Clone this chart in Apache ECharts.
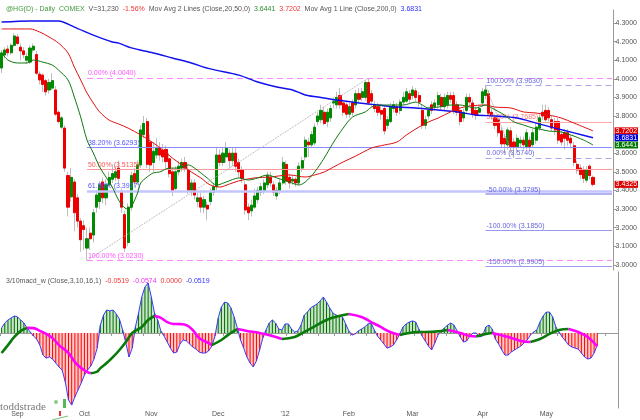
<!DOCTYPE html>
<html><head><meta charset="utf-8">
<script src="https://cdn.jsdelivr.net/npm/echarts@6/dist/echarts.min.js"></script>
<style>html,body{margin:0;padding:0;background:#fff}#c{width:640px;height:420px}</style>
</head><body><div id="c"></div>
<script>
// ---------------- DATA ----------------
const monthLabels = ['Sep','Oct','Nov','Dec',"'12",'Feb','Mar','Apr','May'];
const monthStarts = [5,26,47,68,89,109,129,151,171];
const totalSlots = 194;
const priceTicks = [3.0,3.1,3.2,3.3,3.4,3.5,3.6,3.7,3.8,3.9,4.0,4.1,4.2,4.3];

const opens = [4.058,4.128,4.16,4.14,4.18,4.225,4.17,4.15,4.10,4.09,
4.155,4.13,4.025,4.02,3.99,3.94,3.95,3.94,3.82,3.74,
3.735,3.48,3.365,3.445,3.36,3.235,3.21,3.09,3.17,3.16,
3.31,3.34,3.445,3.36,3.43,3.46,3.47,3.52,3.39,3.27,
3.12,3.31,3.49,3.445,3.537,3.70,3.77,3.66,3.55,3.59,
3.63,3.617,3.62,3.57,3.50,3.41,3.50,3.52,3.55,3.51,
3.40,3.44,3.34,3.36,3.31,3.32,3.34,3.39,3.42,3.59,
3.55,3.58,3.60,3.56,3.60,3.55,3.51,3.43,3.31,3.29,
3.31,3.35,3.39,3.40,3.43,3.47,3.43,3.37,3.40,3.44,
3.54,3.47,3.45,3.46,3.44,3.52,3.58,3.66,3.645,3.655,
3.77,3.78,3.82,3.77,3.79,3.87,3.86,3.91,3.87,3.86,
3.81,3.87,3.86,3.92,3.90,3.90,3.98,3.92,3.86,3.85,
3.83,3.84,3.75,3.77,3.84,3.85,3.83,3.875,3.88,3.92,
3.91,3.935,3.91,3.83,3.75,3.80,3.86,3.85,3.86,3.90,
3.85,3.86,3.91,3.91,3.86,3.83,3.79,3.83,3.90,3.87,
3.83,3.82,3.87,3.91,3.92,3.82,3.79,3.78,3.72,3.68,
3.645,3.72,3.66,3.635,3.655,3.67,3.635,3.67,3.645,3.67,
3.735,3.82,3.83,3.83,3.78,3.77,3.77,3.70,3.71,3.71,
3.68,3.64,3.54,3.52,3.51,3.455,3.53,3.47];
const highs = [4.155,4.17,4.18,4.19,4.245,4.24,4.19,4.17,4.14,4.18,
4.19,4.15,4.04,4.03,4.0,4.0,4.03,3.96,3.83,3.80,
3.75,3.50,3.52,3.46,3.38,3.25,3.24,3.20,3.20,3.30,
3.40,3.45,3.47,3.46,3.50,3.54,3.53,3.56,3.41,3.29,
3.33,3.50,3.52,3.56,3.75,3.80,3.79,3.70,3.66,3.68,
3.66,3.65,3.64,3.60,3.52,3.53,3.56,3.57,3.58,3.54,
3.46,3.46,3.39,3.39,3.37,3.34,3.41,3.44,3.63,3.62,
3.63,3.66,3.62,3.63,3.63,3.57,3.53,3.45,3.33,3.35,
3.41,3.42,3.44,3.46,3.50,3.50,3.45,3.42,3.46,3.58,
3.56,3.49,3.48,3.47,3.55,3.58,3.69,3.68,3.72,3.76,
3.82,3.86,3.85,3.84,3.86,3.90,3.93,3.95,3.89,3.88,
3.87,3.89,3.94,3.95,3.95,3.99,4.004,3.94,3.88,3.87,
3.86,3.86,3.80,3.87,3.88,3.87,3.89,3.93,3.95,3.94,
3.96,3.95,3.93,3.86,3.80,3.85,3.88,3.89,3.93,3.92,
3.92,3.93,3.93,3.93,3.88,3.85,3.84,3.92,3.92,3.89,
3.85,3.86,3.95,3.963,3.94,3.84,3.81,3.80,3.74,3.70,
3.74,3.74,3.68,3.70,3.69,3.69,3.73,3.69,3.73,3.76,
3.81,3.86,3.86,3.85,3.80,3.79,3.79,3.72,3.73,3.73,
3.70,3.66,3.56,3.54,3.53,3.53,3.54,3.48];
const lows = [4.031,4.11,4.12,4.13,4.17,4.18,4.10,4.11,4.08,4.08,
4.14,4.02,3.97,3.93,3.91,3.92,3.94,3.80,3.76,3.73,
3.50,3.26,3.34,3.18,3.20,3.07,3.08,3.023,3.08,3.12,
3.28,3.30,3.33,3.32,3.42,3.44,3.45,3.44,3.28,3.07,
3.10,3.29,3.42,3.43,3.52,3.68,3.52,3.50,3.50,3.57,
3.56,3.55,3.51,3.47,3.37,3.40,3.48,3.50,3.50,3.38,
3.37,3.35,3.31,3.28,3.28,3.24,3.32,3.37,3.40,3.53,
3.53,3.55,3.52,3.53,3.50,3.47,3.44,3.27,3.24,3.26,
3.30,3.33,3.37,3.38,3.41,3.42,3.37,3.35,3.38,3.43,
3.43,3.41,3.43,3.42,3.43,3.50,3.56,3.58,3.63,3.64,
3.75,3.76,3.75,3.74,3.77,3.84,3.84,3.84,3.80,3.79,
3.79,3.80,3.84,3.87,3.88,3.88,3.86,3.85,3.82,3.80,
3.78,3.70,3.73,3.76,3.82,3.80,3.81,3.86,3.87,3.87,
3.89,3.88,3.85,3.73,3.73,3.78,3.81,3.83,3.84,3.83,
3.83,3.84,3.87,3.81,3.80,3.75,3.77,3.81,3.85,3.79,
3.78,3.80,3.85,3.89,3.80,3.78,3.73,3.69,3.63,3.60,
3.62,3.60,3.574,3.60,3.63,3.62,3.62,3.61,3.63,3.65,
3.72,3.78,3.77,3.77,3.72,3.70,3.65,3.64,3.62,3.64,
3.63,3.53,3.49,3.46,3.44,3.44,3.46,3.42];
const closes = [4.139,4.155,4.14,4.18,4.23,4.19,4.15,4.13,4.12,4.165,
4.175,4.03,3.994,3.97,3.93,3.98,3.99,3.81,3.77,3.79,
3.52,3.31,3.47,3.28,3.235,3.135,3.19,3.14,3.14,3.28,
3.375,3.43,3.36,3.43,3.47,3.49,3.50,3.465,3.31,3.09,
3.31,3.48,3.445,3.537,3.725,3.76,3.54,3.537,3.61,3.63,
3.59,3.58,3.555,3.49,3.40,3.50,3.53,3.55,3.52,3.40,
3.44,3.375,3.36,3.31,3.35,3.30,3.39,3.42,3.59,3.55,
3.60,3.63,3.56,3.60,3.53,3.50,3.465,3.295,3.28,3.32,
3.37,3.40,3.42,3.44,3.48,3.44,3.39,3.40,3.44,3.55,
3.45,3.44,3.46,3.44,3.53,3.56,3.67,3.645,3.70,3.74,
3.80,3.83,3.76,3.82,3.84,3.88,3.90,3.86,3.82,3.81,
3.85,3.82,3.92,3.89,3.93,3.98,3.87,3.88,3.84,3.82,
3.81,3.72,3.78,3.85,3.86,3.82,3.875,3.90,3.93,3.89,
3.94,3.90,3.875,3.75,3.78,3.83,3.83,3.87,3.91,3.85,
3.90,3.91,3.89,3.83,3.82,3.77,3.82,3.90,3.875,3.81,
3.805,3.84,3.93,3.94,3.815,3.80,3.75,3.71,3.65,3.65,
3.725,3.635,3.635,3.68,3.67,3.645,3.71,3.635,3.71,3.74,
3.79,3.80,3.78,3.79,3.735,3.725,3.67,3.66,3.68,3.67,
3.655,3.55,3.51,3.485,3.465,3.51,3.48,3.4325];

const ma20 = [[0,4.139],[2,4.101],[5,4.085],[8,4.085],[10,4.101],[13,4.090],[16,4.074],[18,4.047],[21,3.994],[23,3.902],[25,3.795],[27,3.671],[29,3.601],[31,3.526],[33,3.472],[35,3.418],[37,3.348],[39,3.305],[40,3.300],[41,3.311],[43,3.386],[44,3.440],[46,3.472],[48,3.494],[50,3.499],[53,3.520],[56,3.520],[59,3.537],[61,3.520],[65,3.467],[68,3.429],[71,3.445],[75,3.467],[78,3.456],[81,3.467],[84,3.483],[87,3.467],[91,3.445],[94,3.429],[96,3.445],[99,3.499],[102,3.574],[105,3.660],[108,3.735],[111,3.795],[115,3.822],[117,3.848],[119,3.859],[123,3.859],[127,3.859],[131,3.875],[133,3.859],[135,3.843],[138,3.848],[142,3.859],[145,3.859],[148,3.848],[150,3.843],[153,3.859],[155,3.843],[159,3.805],[162,3.768],[165,3.752],[168,3.735],[170,3.730],[173,3.719],[177,3.714],[180,3.698],[184,3.671],[187,3.6441]];
const ma50 = [[0,4.268],[9,4.268],[12,4.252],[15,4.225],[18,4.192],[21,4.139],[23,4.063],[25,3.994],[27,3.924],[29,3.870],[31,3.822],[34,3.778],[37,3.757],[40,3.735],[44,3.698],[48,3.655],[51,3.617],[54,3.574],[57,3.537],[60,3.499],[63,3.467],[66,3.429],[69,3.418],[72,3.434],[75,3.451],[80,3.467],[85,3.472],[91,3.483],[96,3.472],[99,3.483],[102,3.499],[105,3.526],[108,3.553],[112,3.585],[117,3.628],[121,3.644],[125,3.660],[128,3.698],[132,3.741],[135,3.768],[138,3.789],[142,3.822],[145,3.843],[148,3.854],[153,3.859],[156,3.848],[161,3.843],[165,3.822],[169,3.816],[173,3.805],[177,3.789],[181,3.762],[187,3.7202]];
const ma200 = [[0,4.305],[9,4.311],[18,4.311],[23,4.278],[29,4.235],[35,4.198],[37,4.192],[41,4.166],[48,4.139],[54,4.112],[60,4.085],[66,4.053],[75,4.020],[81,3.983],[87,3.956],[92,3.940],[96,3.913],[100,3.902],[106,3.886],[113,3.870],[119,3.859],[125,3.848],[131,3.843],[138,3.832],[144,3.822],[150,3.805],[156,3.800],[163,3.789],[169,3.762],[175,3.735],[181,3.709],[187,3.6831]];

const macd = [0.022,0.043,0.056,0.065,0.073,0.069,0.056,0.043,0.022,0.004,
-0.013,-0.026,-0.052,-0.095,-0.108,-0.103,-0.112,-0.129,-0.146,-0.159,
-0.211,-0.288,-0.310,-0.275,-0.245,-0.215,-0.181,-0.159,-0.142,-0.112,
-0.065,0.034,0.077,0.099,0.095,0.099,0.082,0.060,0.013,-0.043,
-0.103,-0.065,0.026,0.086,0.155,0.198,0.215,0.155,0.086,0.056,
0.009,-0.013,-0.039,-0.065,-0.086,-0.082,-0.047,-0.030,-0.034,-0.047,
-0.060,-0.069,-0.082,-0.086,-0.086,-0.077,-0.056,-0.013,0.065,0.112,
0.133,0.129,0.108,0.069,0.022,-0.030,-0.065,-0.103,-0.129,-0.146,
-0.120,-0.073,-0.022,0.013,0.043,0.056,0.043,0.017,0.013,0.039,
0.039,0.017,0.004,0.009,0.034,0.077,0.090,0.108,0.116,0.125,
0.138,0.155,0.133,0.108,0.086,0.077,0.073,0.069,0.039,0.009,
-0.009,-0.004,0.009,0.017,0.026,0.039,0.043,0.013,-0.013,-0.030,
-0.047,-0.065,-0.060,-0.052,-0.030,-0.004,0.026,0.039,0.047,0.052,
0.047,0.017,-0.013,-0.034,-0.056,-0.073,-0.043,-0.009,0.009,0.022,
0.034,0.043,0.034,0.009,-0.017,-0.039,-0.034,-0.013,0.000,0.000,
-0.017,-0.013,0.026,0.034,0.017,-0.026,-0.047,-0.073,-0.095,-0.095,
-0.082,-0.073,-0.065,-0.056,-0.043,-0.030,-0.009,0.004,0.013,0.047,
0.073,0.090,0.090,0.069,0.026,0.004,-0.017,-0.034,-0.052,-0.060,
-0.065,-0.069,-0.086,-0.103,-0.112,-0.108,-0.086,-0.0519];
const signal = [[0,-0.086],[2,-0.052],[4,-0.017],[6,0.009],[8,0.022],[10,0.021],[12,0.009],[14,-0.004],[16,-0.022],[18,-0.052],[21,-0.086],[23,-0.125],[25,-0.151],[27,-0.168],[28,-0.173],[30,-0.166],[31,-0.151],[33,-0.129],[35,-0.103],[37,-0.073],[39,-0.039],[41,0.000],[44,0.026],[46,0.056],[48,0.073],[50,0.065],[52,0.047],[54,0.039],[56,0.038],[58,0.034],[60,0.013],[62,-0.022],[65,-0.043],[66,-0.052],[69,-0.030],[71,-0.009],[73,0.009],[74,0.017],[77,0.009],[81,0.000],[85,-0.013],[88,-0.026],[92,-0.017],[95,0.004],[98,0.026],[102,0.056],[106,0.073],[109,0.082],[113,0.069],[116,0.047],[119,0.026],[122,0.004],[125,-0.009],[128,0.000],[131,0.004],[135,0.005],[140,0.013],[144,0.000],[147,-0.013],[149,-0.015],[152,-0.004],[154,0.000],[159,-0.017],[163,-0.034],[166,-0.039],[169,-0.026],[172,-0.004],[175,0.013],[178,0.017],[181,0.004],[184,-0.017],[187,-0.0574]];

const fibALabels = ['0.00%','38.20%','50.00%','61.80%','100.00%'];
const fibAValues = [4.0040,3.6293,3.5135,3.3977,3.0230];
const fibAAnchors = [27,116];
const fibBLabels = ['100.00%','50.00%','0.00%','-50.00%','-100.00%','-150.00%'];
const fibBValues = [3.9630,3.7685,3.5740,3.3795,3.1850,2.9905];
const fibBAnchors = [153,162];

const symbolText = '@HG(D) - Daily', exchText = 'COMEX', volText = 'V=31,230', chgText = '-1.56%';
const ma2Text = 'Mov Avg 2 Lines (Close,20,50,0)', ma1Text = 'Mov Avg 1 Line (Close,200,0)';
const macdTitle = '3/10macd_w (Close,3,10,16,1)';

// ---------------- BUILD ----------------
const FONT = 'Liberation Sans';
const UP = '#008a00', DOWN = '#ee0000', MAGENTA = '#ff00ff', SIGGREEN = '#0a7a0a';
const cats = Array.from({length: totalSlots}, (_, i) => i);
const lastIdx = totalSlots - 1;
const candleFull = opens.map((o, i) => [o, closes[i], lows[i], highs[i]]);
const candleBody = opens.map((o, i) => [o, closes[i], Math.min(o, closes[i]), Math.max(o, closes[i])]);
const last = a => a[a.length - 1][1];

const stA = [
  {c:'#ff88ff', w:1, t:[6,4], lc:'#ff55ff'},
  {c:'#8888ff', w:1, t:'solid', lc:'#5555ff'},
  {c:'#ff9a9a', w:1, t:'solid', lc:'#ff5555'},
  {c:'#c4c4ff', w:2.5, t:'solid', lc:'#5555ff'},
  {c:'#ff88ff', w:1, t:[6,4], lc:'#ff55ff'}
];
const stB = [
  {c:'#a8a8e8', w:1, t:[6,4], lc:'#6666dd'},
  {c:'#ffaaaa', w:1, t:'solid', lc:'#ff7777'},
  {c:'#a8a8e8', w:1, t:[6,4], lc:'#6666dd'},
  {c:'#9999ee', w:1.5, t:'solid', lc:'#6666dd'},
  {c:'#9999ee', w:1, t:'solid', lc:'#6666dd'},
  {c:'#9999ee', w:1, t:'solid', lc:'#6666dd'}
];
function fibLines(labels, values, start, styles) {
  return labels.map((lab, k) => [
    {coord:[start, values[k]], lineStyle:{color:styles[k].c, width:styles[k].w, type:styles[k].t},
     label:{show:true, position:'insideStartTop', distance:1, formatter: lab + ' (' + values[k].toFixed(4) + ')',
            color:styles[k].lc, fontSize:7, fontFamily:FONT}},
    {coord:[lastIdx, values[k]]}
  ]);
}
const fibData = []
  .concat(fibLines(fibALabels, fibAValues, fibAAnchors[0], stA))
  .concat(fibLines(fibBLabels, fibBValues, fibBAnchors[0], stB))
  .concat([
    [{coord:[fibAAnchors[0], fibAValues[4]], lineStyle:{color:'#aaaaaa', type:'dotted', width:1}, label:{show:false}}, {coord:[fibAAnchors[1], fibAValues[0]]}],
    [{coord:[fibBAnchors[0], fibBValues[0]], lineStyle:{color:'#aaaaaa', type:'dotted', width:1}, label:{show:false}}, {coord:[fibBAnchors[1], fibBValues[2]]}]
  ]);

// signal segments colored by direction
const sigSeries = [];
let run = [signal[0]], runCol = null;
for (let k = 1; k < signal.length; k++) {
  const col = signal[k][1] > signal[k-1][1] ? SIGGREEN : MAGENTA;
  if (runCol === null) runCol = col;
  if (col !== runCol) { sigSeries.push({c: runCol, d: run}); run = [signal[k-1]]; runCol = col; }
  run.push(signal[k]);
}
sigSeries.push({c: runCol, d: run});

const series = [
  {type:'line', name:'fib', xAxisIndex:0, yAxisIndex:0, data:[], z:1, silent:true,
   markLine:{symbol:['none','none'], silent:true, animation:false, data: fibData}},
  {type:'candlestick', data: candleFull, xAxisIndex:0, yAxisIndex:0, barWidth:2.6, z:3,
   itemStyle:{color:'#c4c4c4', color0:'#c4c4c4', borderColor:'#bdbdbd', borderColor0:'#bdbdbd', borderWidth:1}},
  {type:'candlestick', data: candleBody, xAxisIndex:0, yAxisIndex:0, barWidth:2.6, z:4,
   itemStyle:{color:UP, color0:DOWN, borderColor:UP, borderColor0:DOWN, borderWidth:1}},
  {type:'line', data: ma200, xAxisIndex:0, yAxisIndex:0, symbol:'none', smooth:0.3, z:5,
   lineStyle:{color:'#1010ee', width:1.4}},
  {type:'line', data: ma50, xAxisIndex:0, yAxisIndex:0, symbol:'none', smooth:0.3, z:5,
   lineStyle:{color:'#e01010', width:1}},
  {type:'line', data: ma20, xAxisIndex:0, yAxisIndex:0, symbol:'none', smooth:0.3, z:5,
   lineStyle:{color:'#117711', width:1}},
  // MACD panel
  {type:'line', data: macd.map(v => Math.max(v, 0)), xAxisIndex:1, yAxisIndex:1, symbol:'none', z:1,
   lineStyle:{width:0, opacity:0}, areaStyle:{color:'#c9e6c9', opacity:1}},
  {type:'line', data: macd.map(v => Math.min(v, 0)), xAxisIndex:1, yAxisIndex:1, symbol:'none', z:1,
   lineStyle:{width:0, opacity:0}, areaStyle:{color:'#ffcaca', opacity:1}},
  {type:'bar', data: macd, xAxisIndex:1, yAxisIndex:1, barWidth:1, z:2,
   itemStyle:{color: p => p.value >= 0 ? '#006a00' : '#ff0000'}},
  {type:'line', data: macd, xAxisIndex:1, yAxisIndex:1, symbol:'none', z:3,
   lineStyle:{color:'#3a3aff', width:1}}
];
sigSeries.forEach(s => series.push({type:'line', data:s.d, xAxisIndex:1, yAxisIndex:1, symbol:'none', smooth:0.4, z:4,
  lineStyle:{color:s.c, width:2.6}}));

const staticGraphics = [
  {id:'wm', type:'text', left:0, top:402, style:{text:'toddstrade', fill:'#7a7a7a', font:'11px "Liberation Serif", serif'}},
  {id:'ic1', type:'rect', left:63, top:399, shape:{width:3, height:9}, style:{fill:'#55bb55'}},
  {id:'ic2', type:'circle', left:54, top:400, shape:{r:2}, style:{fill:'#88cc88'}},
  {id:'ic3', type:'rect', left:59, top:411, shape:{width:2, height:5}, style:{fill:'#ee3333'}},
  {id:'ic4', type:'line', shape:{x1:52, y1:420, x2:68, y2:416}, style:{stroke:'#77bb77', lineWidth:1}}
];

const chart = echarts.init(document.getElementById('c'), null, {renderer:'canvas'});
chart.setOption({
  animation:false,
  backgroundColor:'#ffffff',
  textStyle:{fontFamily:FONT},
  title:[
    {left:1, top:1, text:'{g|'+symbolText+'}  {g|'+exchText+'}  {k|'+volText+'}  {r|'+chgText+'}  {k|'+ma2Text+'}  {g2|'+last(ma20).toFixed(4)+'}  {r|'+last(ma50).toFixed(4)+'}  {k|'+ma1Text+'}  {b|'+last(ma200).toFixed(4)+'}',
     textStyle:{fontSize:7, fontWeight:'normal', fontFamily:FONT,
       rich:{g:{color:'#44993f', fontSize:7, fontFamily:FONT}, g2:{color:'#2a8a2a', fontSize:7, fontFamily:FONT},
             k:{color:'#555555', fontSize:7, fontFamily:FONT}, r:{color:'#ee3333', fontSize:7, fontFamily:FONT},
             b:{color:'#3333ff', fontSize:7, fontFamily:FONT}}}},
    {left:1, top:273, text:'{k|'+macdTitle+'}  {r|'+macd[macd.length-1].toFixed(4)+'}  {m|'+last(signal).toFixed(4)+'}  {r|'+(0).toFixed(4)+'}  {b|'+macd[macd.length-1].toFixed(4)+'}',
     textStyle:{fontSize:7, fontWeight:'normal', fontFamily:FONT,
       rich:{k:{color:'#555555', fontSize:7, fontFamily:FONT}, r:{color:'#ee3333', fontSize:7, fontFamily:FONT},
             m:{color:'#ee33ee', fontSize:7, fontFamily:FONT}, b:{color:'#3333ff', fontSize:7, fontFamily:FONT}}}}
  ],
  grid:[
    {left:0, right:22, top:10, height:260},
    {left:0, right:22, top:272, height:136}
  ],
  xAxis:[
    {type:'category', data:cats, gridIndex:0, boundaryGap:true, show:false},
    {type:'category', data:cats, gridIndex:1, boundaryGap:true,
     axisLine:{lineStyle:{color:'#999999'}},
     axisTick:{show:true, interval:(i) => (i - 5) % 5 === 0, length:3, lineStyle:{color:'#999999'}},
     axisLabel:{interval:(i) => monthStarts.indexOf(i) >= 0, formatter:(v, i) => monthLabels[monthStarts.indexOf(i)] || '',
                color:'#555555', fontSize:7, margin:3, fontFamily:FONT},
     splitLine:{show:false}}
  ],
  yAxis:[
    {type:'value', gridIndex:0, position:'right', min:2.97204, max:4.36989, scale:true,
     axisLine:{show:true, lineStyle:{color:'#999999'}},
     axisTick:{show:true, length:3, customValues:priceTicks, lineStyle:{color:'#999999'}},
     axisLabel:{customValues:priceTicks, formatter:v => v.toFixed(4), color:'#555555', fontSize:7, margin:2, fontFamily:FONT},
     splitLine:{show:false}},
    {type:'value', gridIndex:1, position:'right', min:-0.3225, max:0.2623,
     axisLine:{show:true, lineStyle:{color:'#999999'}}, axisTick:{show:false}, axisLabel:{show:false}, splitLine:{show:false}}
  ],
  graphic: staticGraphics,
  series: series
});

// value boxes on the right price axis, placed through the chart's own scale
const boxes = [
  [last(ma50), '#dd0000'], [last(ma200), '#0000dd'], [last(ma20), '#007700'], [closes[closes.length-1], '#dd0000']
];
const axisX = chart.convertToPixel({xAxisIndex:0}, lastIdx) + 1.6;
const boxGraphics = boxes.map(([v, bg], k) => {
  const y = chart.convertToPixel({yAxisIndex:0}, v);
  return {id:'box'+k, type:'text', x: axisX + 1, y: y - 3.5, z: 100,
    style:{text: v.toFixed(4), fill:'#ffffff', backgroundColor:bg, padding:[0,1,0,1],
           font:'7px "Liberation Sans"', lineHeight:7, verticalAlign:'top'}};
});
chart.setOption({graphic: staticGraphics.concat(boxGraphics)});
</script></body></html>
